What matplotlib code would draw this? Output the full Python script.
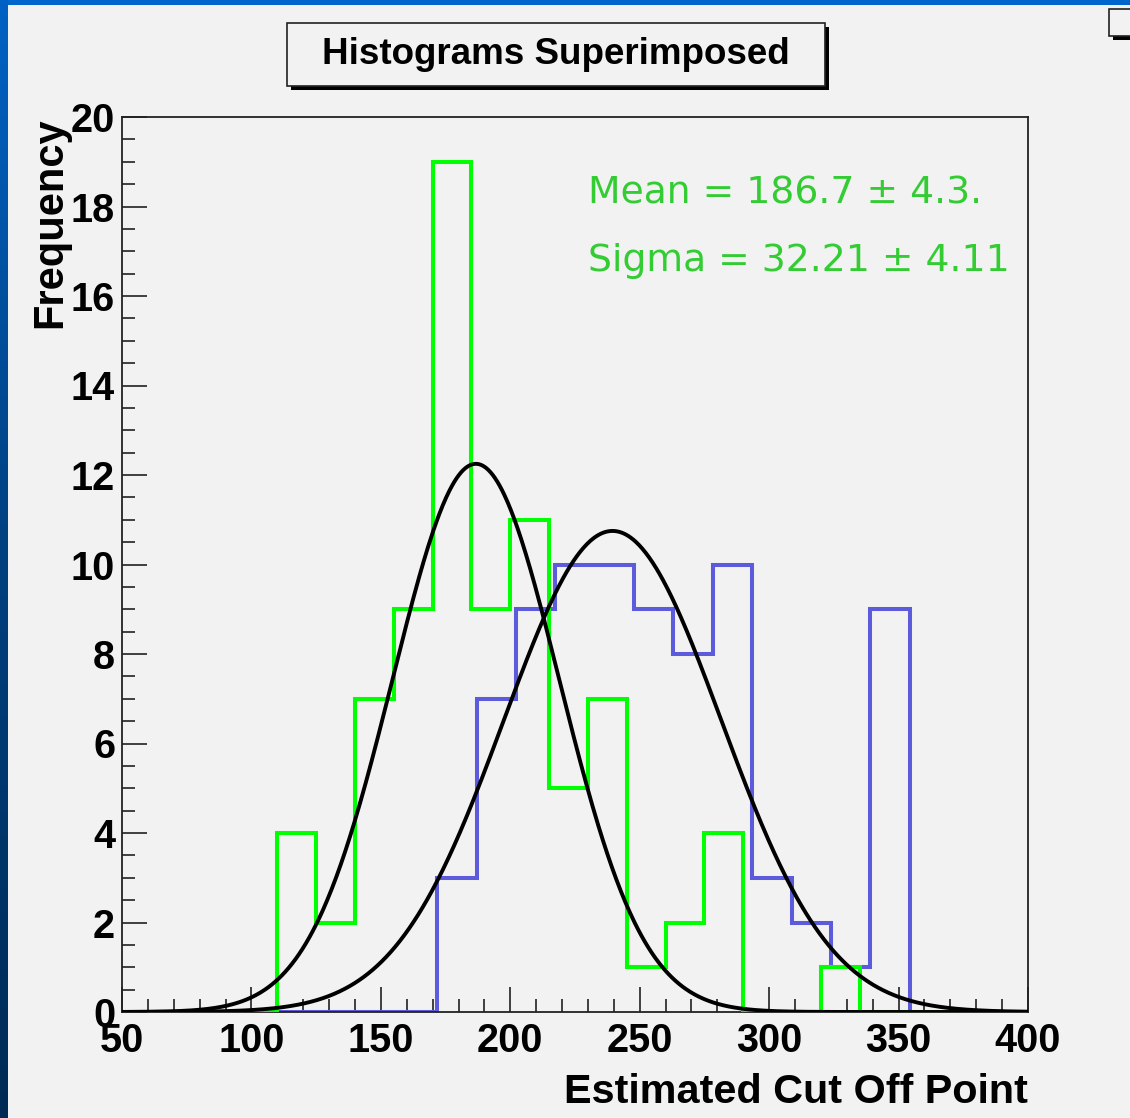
import numpy as np
import matplotlib.pyplot as plt
from matplotlib.patches import Rectangle
from matplotlib.colors import LinearSegmentedColormap

# bin edges and counts for the two histograms
green_edges = [50, 65, 80, 95, 110, 125, 140, 155, 170, 185, 200, 215, 230,
               245, 260, 275, 290, 305, 320, 335, 350, 365, 380, 395]
green_counts = [0, 0, 0, 0, 4, 2, 7, 9, 19, 9, 11, 5, 7, 1, 2, 4, 0, 0, 1, 0, 0, 0, 0]

blue_edges = [50.0, 65.2, 80.4, 95.7, 110.9, 126.1, 141.3, 156.5, 171.7, 187.0,
              202.2, 217.4, 232.6, 247.8, 263.0, 278.3, 293.5, 308.7, 323.9,
              339.1, 354.3, 369.6, 384.8, 400.0]
blue_counts = [0, 0, 0, 0, 0, 0, 0, 0, 3, 7, 9, 10, 10, 9, 8, 10, 3, 2, 1, 9, 0, 0, 0]

# gaussian fits
green_fit = dict(amp=12.25, mean=186.7, sigma=32.21)
blue_fit = dict(amp=10.75, mean=239.5, sigma=42.0)

mean_txt = "Mean = 186.7 \u00b1 4.3."
sigma_txt = "Sigma = 32.21 \u00b1 4.11"

W, H = 1130, 1118
bg = '#f2f2f2'

def fx(px):
    return px / W

def fy(py):
    return 1 - py / H

fig = plt.figure(figsize=(W / 100, H / 100), dpi=100, facecolor='#0066cc')

# slide border: blue strip on top, darker gradient on the left
fig.patches.append(Rectangle((fx(8), 0), 1, fy(5), transform=fig.transFigure,
                             facecolor=bg, edgecolor='none', zorder=-5))
strip = fig.add_axes([0, 0, fx(8), 1])
grad = np.linspace(0, 1, 256).reshape(-1, 1)
strip.imshow(grad, aspect='auto', cmap=LinearSegmentedColormap.from_list(
    'side', ['#0062c4', '#00407f', '#002a55']), extent=[0, 1, 0, 1])
strip.axis('off')

ax = fig.add_axes([fx(122), fy(1012), fx(1028) - fx(122), fy(117) - fy(1012)])
ax.set_facecolor(bg)

lw = 2.9
ax.stairs(blue_counts, blue_edges, color='#5b5bdc', lw=lw, baseline=0, zorder=2)
ax.stairs(green_counts, green_edges, color='#00ff00', lw=lw, baseline=0, zorder=3)

x = np.linspace(50, 400, 800)
for p in (green_fit, blue_fit):
    y = p['amp'] * np.exp(-0.5 * ((x - p['mean']) / p['sigma']) ** 2)
    ax.plot(x, y, color='black', lw=2.8, zorder=4)

ax.set_xlim(50, 400)
ax.set_ylim(0, 20)
ax.set_xticks(np.arange(50, 401, 50))
ax.set_xticks(np.arange(50, 401, 10), minor=True)
ax.set_yticks(np.arange(0, 21, 2))
ax.set_yticks(np.arange(0, 20.1, 0.5), minor=True)

ax.tick_params(which='both', direction='in', top=False, right=False,
               color='#222222', width=1.2)
ax.tick_params(which='major', length=18)
ax.tick_params(which='minor', length=9.5)
ax.tick_params(axis='x', which='major', pad=7)
ax.tick_params(axis='y', which='major', pad=5)
for lab in ax.get_xticklabels() + ax.get_yticklabels():
    lab.set_fontfamily('Liberation Sans')
    lab.set_fontweight('bold')
    lab.set_fontsize(28.5)
for s in ax.spines.values():
    s.set_linewidth(1.3)
    s.set_color('#222222')

ax.set_xlabel('Estimated Cut Off Point', fontfamily='Liberation Sans',
              fontweight='bold', fontsize=29.8, loc='right')
ax.xaxis.label.set_va('baseline')
ax.xaxis.set_label_coords(1.0, -(1103 - 1012) / 895)
ax.set_ylabel('Frequency', fontfamily='Liberation Sans',
              fontweight='bold', fontsize=30, loc='top')
ax.yaxis.label.set_va('baseline')
ax.yaxis.set_label_coords(-(122 - 61) / 906, 1.0)

ax.text((588 - 122) / 906, (1012 - 204) / 895, mean_txt, transform=ax.transAxes,
        color='#33cc33', fontsize=27.2, fontfamily='DejaVu Sans', va='baseline')
ax.text((588 - 122) / 906, (1012 - 271) / 895, sigma_txt, transform=ax.transAxes,
        color='#33cc33', fontsize=27.2, fontfamily='DejaVu Sans', va='baseline')

# title box with drop shadow
def shadow_box(x0, y0, x1, y1):
    fig.patches.append(Rectangle((fx(x0 + 4), fy(y1 + 4)), fx(x1 - x0), fy(y0) - fy(y1),
                                 transform=fig.transFigure, facecolor='black',
                                 edgecolor='none', zorder=5))
    fig.patches.append(Rectangle((fx(x0), fy(y1)), fx(x1 - x0), fy(y0) - fy(y1),
                                 transform=fig.transFigure, facecolor=bg,
                                 edgecolor='#222222', lw=1.2, zorder=6))

shadow_box(287, 23, 825, 86)
fig.text(fx(556), fy(55), 'Histograms Superimposed', ha='center', va='center',
         fontfamily='Liberation Sans', fontweight='bold', fontsize=26.5, zorder=7)

# corner of the stats box
shadow_box(1109, 9, 1140, 36)

fig.savefig('out.png', dpi=100, facecolor=fig.get_facecolor())
